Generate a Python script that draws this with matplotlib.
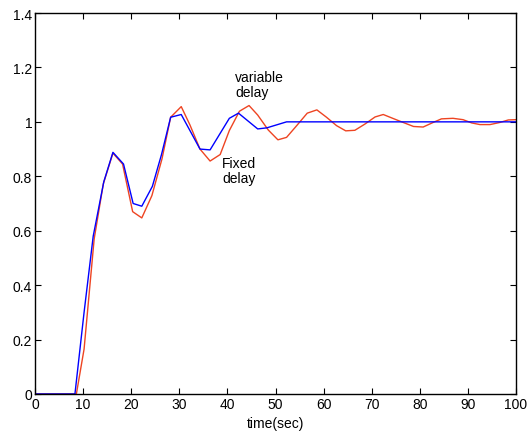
import matplotlib.pyplot as plt

plt.rcParams['font.family'] = ['Liberation Sans', 'DejaVu Sans']

# fixed delay (blue)
t_fixed = [0, 8.3, 10.2, 12.1, 14.3, 16.2, 18.4, 20.4, 22.2, 24.4, 26.3, 28.2, 30.4,
           34.3, 36.4, 40.4, 42.3, 46.3, 48.2, 52.3, 100]
y_fixed = [0, 0, 0.30, 0.58, 0.78, 0.888, 0.845, 0.70, 0.69, 0.763, 0.88, 1.017, 1.027,
           0.90, 0.897, 1.013, 1.032, 0.974, 0.978, 1.0, 1.0]

# variable delay (red)
t_var = [0, 8.6, 10.2, 12.3, 14.2, 16.2, 18.2, 20.3, 22.2, 24.3, 26.4, 28.2, 30.4, 32.2,
         34.3, 36.4, 38.5, 40.4, 42.5, 44.5, 46.3, 48.5, 50.5, 52.3, 54.4, 56.6, 58.6,
         60.6, 62.7, 64.6, 66.5, 68.6, 70.7, 72.4, 75.5, 78.7, 80.7, 82.8, 84.5, 86.9,
         89.0, 90.8, 92.5, 94.6, 96.7, 98.4, 100]
y_var = [0, 0, 0.165, 0.57, 0.772, 0.885, 0.845, 0.67, 0.647, 0.729, 0.864, 1.017, 1.056,
         0.989, 0.90, 0.856, 0.88, 0.968, 1.039, 1.06, 1.025, 0.97, 0.934, 0.943, 0.986,
         1.032, 1.044, 1.017, 0.986, 0.967, 0.969, 0.992, 1.018, 1.027, 1.005, 0.983,
         0.981, 0.998, 1.011, 1.013, 1.008, 0.996, 0.99, 0.99, 0.998, 1.007, 1.008]

fig = plt.figure(figsize=(5.29, 4.35), dpi=100)
ax = fig.add_axes([0.0662, 0.092, 0.9092, 0.8758])

ax.plot(t_var, y_var, color='#EE4422', linewidth=1)
ax.plot(t_fixed, y_fixed, color='#0000FF', linewidth=1)

ax.set_xlim(0, 100)
ax.set_ylim(0, 1.4)
ax.set_xticks(range(0, 101, 10))
ax.set_yticks([0, 0.2, 0.4, 0.6, 0.8, 1, 1.2, 1.4])
ax.set_yticklabels(['0', '0.2', '0.4', '0.6', '0.8', '1', '1.2', '1.4'])
ax.tick_params(direction='in', length=4, width=0.8, top=True, right=True,
               labelsize=10, pad=2)
for s in ax.spines.values():
    s.set_linewidth(1)
ax.set_xlabel('time(sec)', fontsize=10, labelpad=4)

ax.text(41.6, 1.19, 'variable\ndelay', fontsize=10, va='top', ha='left',
        linespacing=1.1)
ax.text(38.9, 0.875, 'Fixed\ndelay', fontsize=10, va='top', ha='left',
        linespacing=1.1)

fig.savefig('out.png', dpi=100)
